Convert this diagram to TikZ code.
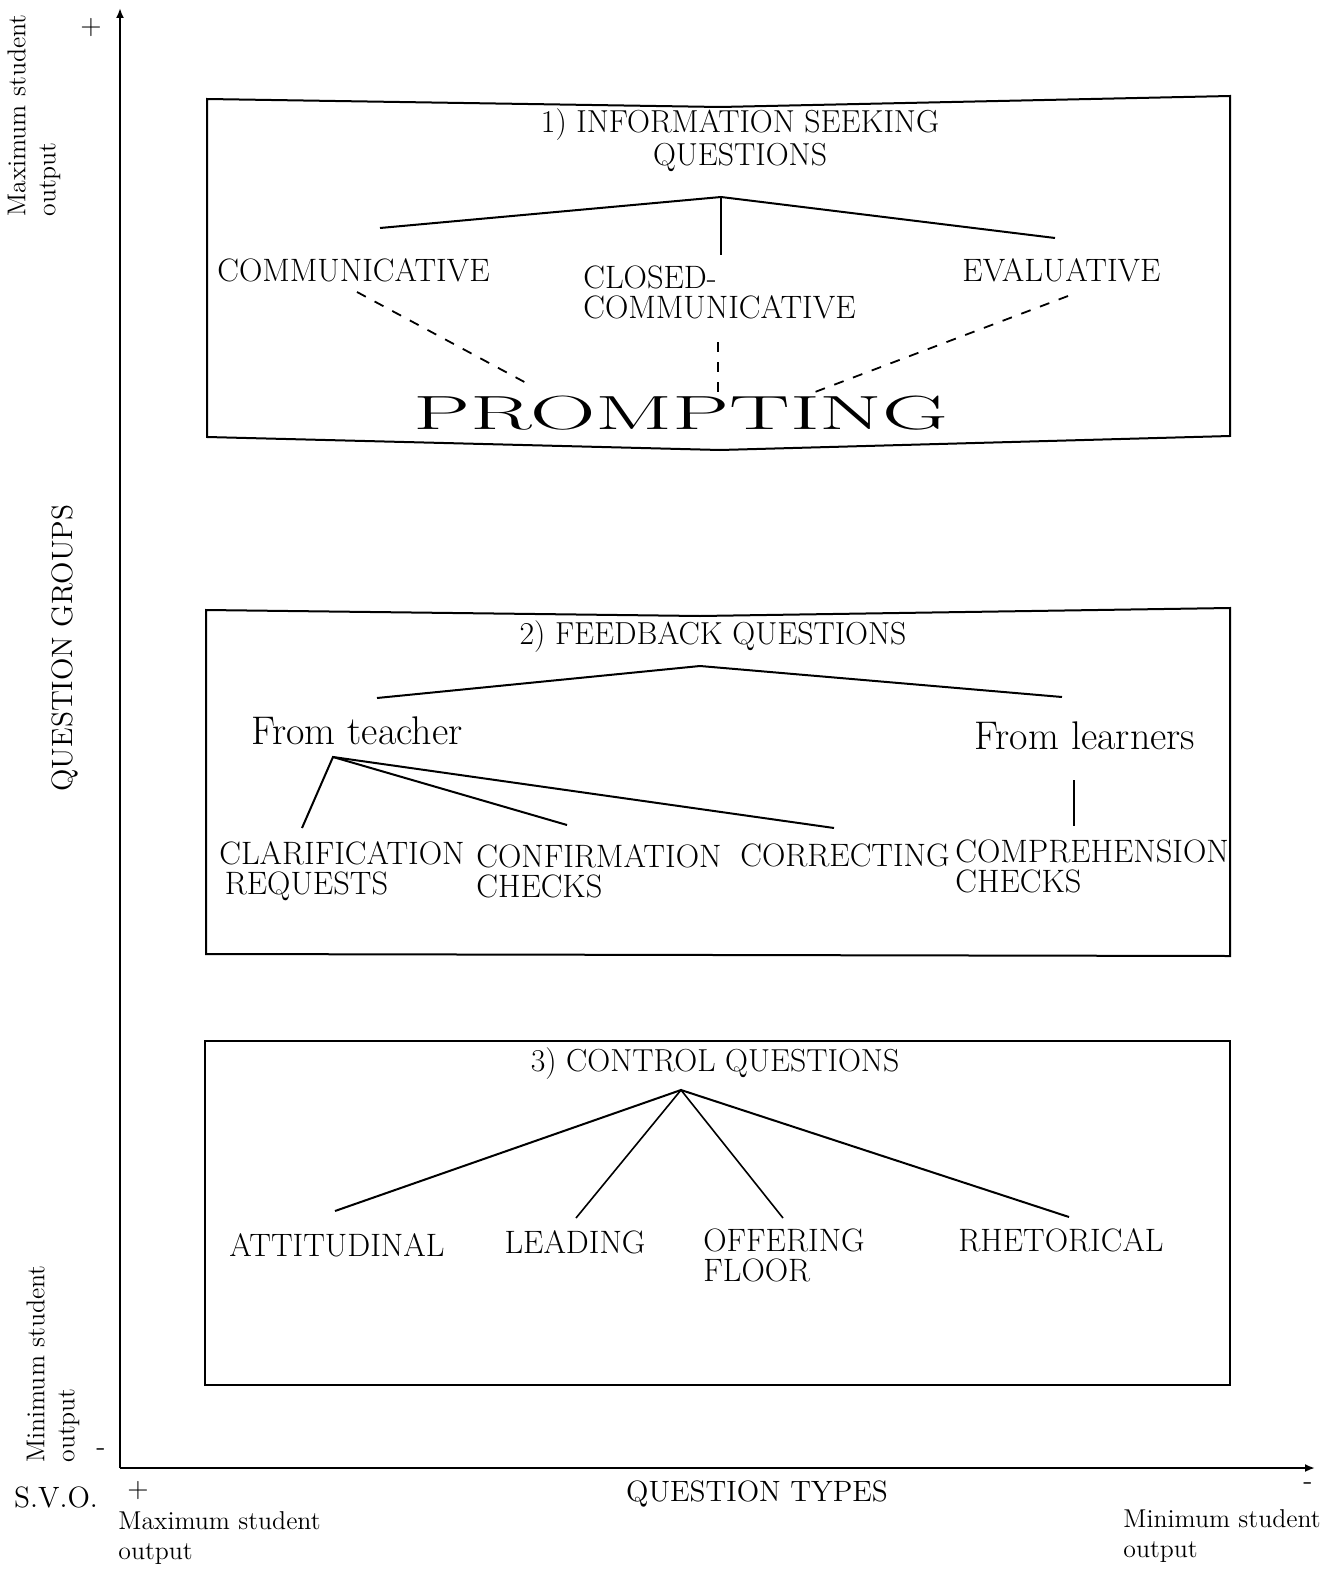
\documentclass[tikz,border=0pt]{standalone}
\usetikzlibrary{arrows.meta}
\begin{document}
\begin{tikzpicture}[x=0.5pt,y=-0.5pt]
\tikzset{
 lab/.style={inner sep=0pt, font=\fontsize{16.2}{15}\selectfont},
 labml/.style={lab, align=left},
 ttl/.style={inner sep=0pt, font=\fontsize{15.9}{16.5}\selectfont, align=center},
 big/.style={inner sep=0pt, font=\fontsize{20}{20}\selectfont},
 axl/.style={inner sep=0pt, font=\fontsize{12.9}{15}\selectfont, align=left},
 axt/.style={inner sep=0pt, font=\fontsize{14.7}{15}\selectfont},
 pm/.style={inner sep=0pt, font=\fontsize{14}{14}\selectfont},
 ax/.style={line width=1pt},
 boxl/.style={line width=1pt, line join=miter},
 br/.style={line width=1pt},
 dsh/.style={line width=0.9pt, dash pattern=on 5pt off 5pt},
}
\useasboundingbox (0,0) rectangle (1339,1573);

% axes
\coordinate (O) at (120,1468);
\coordinate (Ytop) at (120,8);
\coordinate (Xend) at (1315,1468);
\draw[ax,-{Latex[length=5pt,width=4pt]}] (O) -- (Ytop);
\draw[ax,-{Latex[length=5pt,width=4pt]}] (O) -- (Xend);

\node[pm] (yplus) at (91,28) {+};
\node[pm] (yminus) at (101,1452) {-};
\node[pm] (xplus) at (138,1490) {+};
\node[pm] (xminus) at (1308,1486) {-};

\node[axl,rotate=90,anchor=north west] (ymax) at (7,217) {Maximum student\\output};
\node[axl,rotate=90,anchor=north west] (ymin) at (26,1463) {Minimum student\\output};
\node[axt,rotate=90] (qg) at (65,648) {QUESTION GROUPS};
\node[axt] (svo) at (56,1497) {S.V.O.};
\node[axt] (qt) at (757,1494) {QUESTION TYPES};
\node[axl,anchor=north west] (xmax) at (118,1511) {Maximum student\\output};
\node[axl,anchor=north west] (xmin) at (1123,1509) {Minimum student\\output};

% box 1
\draw[boxl] (207,99) -- (720,107) -- (1230,96) -- (1230,436) -- (720,450) -- (207,437) -- cycle;
\node[ttl] (t1) at (740,140) {1) INFORMATION SEEKING\\QUESTIONS};
\coordinate (a1) at (721,197);
\coordinate (a1l) at (380,228);
\coordinate (a1r) at (1055,238);
\coordinate (a1m) at (721,255);
\draw[br] (a1l) -- (a1) -- (a1r);
\draw[line width=0.7pt] (a1) -- (a1m);
\node[lab,anchor=west] (comm) at (217,270) {COMMUNICATIVE};
\node[labml,anchor=north west] (closed) at (583,265) {CLOSED-\\COMMUNICATIVE};
\node[lab,anchor=west] (eval) at (962,270) {EVALUATIVE};
\node[inner sep=0pt] (prompt) at (681,413) {\scalebox{1.89}[1]{\fontsize{24}{24}\selectfont PROMPTING}};
\coordinate (d1a) at (357,292);
\coordinate (d1b) at (530,385);
\coordinate (d2a) at (718,342);
\coordinate (d2b) at (718,395);
\coordinate (d3a) at (1068,296);
\coordinate (d3b) at (815,392);
\draw[dsh] (d1a) -- (d1b);
\draw[dsh] (d2a) -- (d2b);
\draw[dsh] (d3a) -- (d3b);

% box 2
\draw[boxl] (206,610) -- (700,616) -- (1230,608) -- (1230,956) -- (206,954) -- cycle;
\node[ttl] (t2) at (713,637) {2) FEEDBACK QUESTIONS};
\coordinate (a2) at (700,666);
\coordinate (a2l) at (377,698);
\coordinate (a2r) at (1062,697);
\draw[br] (a2l) -- (a2) -- (a2r);
\node[big] (ft) at (357,731) {From teacher};
\node[big] (fl) at (1085,736) {From learners};
\coordinate (b2) at (333,757);
\coordinate (b2a) at (302,828);
\coordinate (b2b) at (567,825);
\coordinate (b2c) at (834,828);
\draw[br] (b2a) -- (b2) -- (b2b);
\draw[br] (b2) -- (b2c);
\coordinate (c2a) at (1074,780);
\coordinate (c2b) at (1074,826);
\draw[line width=0.7pt] (c2a) -- (c2b);
\node[labml,anchor=north west] (clar) at (219,841) {CLARIFICATION\\\,REQUESTS};
\node[labml,anchor=north west] (conf) at (476,844) {CONFIRMATION\\CHECKS};
\node[lab,anchor=west] (corr) at (740,855) {CORRECTING};
\node[labml,anchor=north west] (comp) at (955,839) {COMPREHENSION\\CHECKS};

% box 3
\draw[boxl] (205,1041) rectangle (1230,1385);
\node[ttl] (t3) at (715,1064) {3) CONTROL QUESTIONS};
\coordinate (a3) at (681,1090);
\coordinate (a3a) at (335,1211);
\coordinate (a3b) at (576,1218);
\coordinate (a3c) at (783,1218);
\coordinate (a3d) at (1069,1217);
\draw[br] (a3a) -- (a3) -- (a3d);
\draw[line width=0.8pt] (a3b) -- (a3) -- (a3c);
\node[lab] (att) at (337,1245) {ATTITUDINAL};
\node[lab] (lead) at (575,1242) {LEADING};
\node[labml,anchor=north west] (off) at (703,1228) {OFFERING\\FLOOR};
\node[lab] (rhet) at (1061,1240) {RHETORICAL};
\end{tikzpicture}
\end{document}
